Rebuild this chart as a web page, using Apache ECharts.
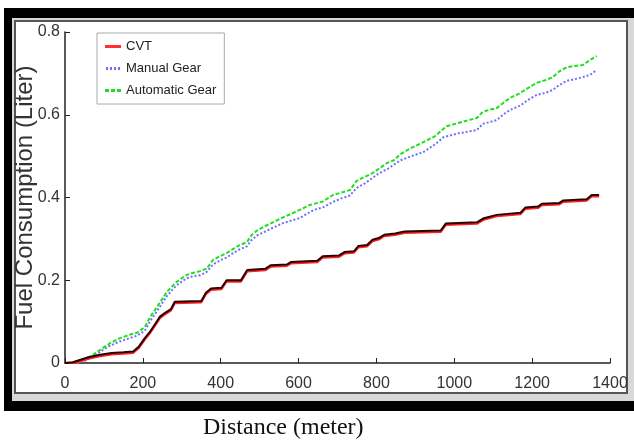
<!DOCTYPE html>
<html>
<head>
<meta charset="utf-8">
<script src="https://cdn.jsdelivr.net/npm/echarts@6/dist/echarts.min.js"></script>
<style>
  html, body { margin: 0; padding: 0; background: #fff; }
  #chart { width: 634px; height: 442px; }
</style>
</head>
<body>
<div id="chart"></div>
<script>
// distance (meter) -> fuel (liter)
const cvtData = [
  [0, 0], [20, 0.002], [40, 0.008], [60, 0.014], [90, 0.02], [120, 0.024], [150, 0.026], [175, 0.028],
  [190, 0.04], [205, 0.06], [218, 0.075], [232, 0.095], [244, 0.112], [258, 0.122], [272, 0.13],
  [282, 0.148], [350, 0.15], [362, 0.17], [375, 0.18], [402, 0.182], [415, 0.2], [452, 0.2],
  [468, 0.225], [515, 0.228], [528, 0.236], [570, 0.238], [580, 0.244], [648, 0.247], [662, 0.258],
  [704, 0.26], [718, 0.268], [742, 0.27], [754, 0.283], [776, 0.285], [790, 0.298], [806, 0.302],
  [820, 0.31], [848, 0.313], [872, 0.318], [965, 0.32], [978, 0.337], [1058, 0.34], [1076, 0.35],
  [1109, 0.358], [1170, 0.363], [1183, 0.376], [1215, 0.378], [1225, 0.385], [1270, 0.387],
  [1280, 0.393], [1340, 0.396], [1353, 0.406], [1372, 0.406]
];
const manualData = [
  [30, 0], [50, 0.005], [72, 0.016], [95, 0.03], [116, 0.042], [141, 0.052], [165, 0.06], [185, 0.066],
  [205, 0.078], [218, 0.1], [236, 0.125], [250, 0.145], [262, 0.162], [275, 0.176], [287, 0.188],
  [300, 0.197], [313, 0.205], [330, 0.21], [347, 0.212], [364, 0.22], [380, 0.238], [398, 0.248],
  [416, 0.255], [432, 0.266], [449, 0.275], [467, 0.282], [480, 0.298], [493, 0.308], [508, 0.315],
  [530, 0.325], [560, 0.338], [580, 0.344], [603, 0.35], [620, 0.36], [639, 0.37], [662, 0.376],
  [690, 0.39], [710, 0.398], [732, 0.405], [749, 0.423], [770, 0.434], [801, 0.455], [830, 0.47],
  [862, 0.49], [890, 0.5], [921, 0.51], [950, 0.528], [973, 0.546], [1010, 0.555], [1040, 0.56],
  [1058, 0.563], [1073, 0.578], [1090, 0.582], [1109, 0.587], [1125, 0.6], [1142, 0.611],
  [1171, 0.623], [1190, 0.636], [1212, 0.648], [1235, 0.653], [1253, 0.66], [1270, 0.672],
  [1289, 0.682], [1310, 0.686], [1330, 0.691], [1348, 0.696], [1366, 0.708]
];
const autoData = [
  [30, 0], [50, 0.008], [72, 0.02], [95, 0.035], [116, 0.048], [141, 0.06], [165, 0.068], [185, 0.073],
  [205, 0.087], [218, 0.11], [236, 0.135], [250, 0.155], [262, 0.172], [275, 0.185], [287, 0.196],
  [300, 0.205], [313, 0.213], [330, 0.218], [347, 0.222], [364, 0.228], [380, 0.249], [398, 0.258],
  [416, 0.266], [432, 0.276], [449, 0.285], [467, 0.292], [480, 0.31], [493, 0.32], [508, 0.328],
  [530, 0.338], [560, 0.352], [580, 0.36], [603, 0.37], [629, 0.382], [662, 0.39], [688, 0.406],
  [710, 0.412], [732, 0.418], [749, 0.44], [770, 0.45], [790, 0.459], [810, 0.472], [827, 0.483],
  [845, 0.49], [862, 0.505], [890, 0.52], [921, 0.534], [950, 0.548], [980, 0.572], [1010, 0.58],
  [1040, 0.588], [1058, 0.592], [1073, 0.607], [1090, 0.612], [1109, 0.616], [1125, 0.628],
  [1142, 0.64], [1168, 0.652], [1190, 0.665], [1212, 0.677], [1235, 0.684], [1253, 0.691],
  [1270, 0.705], [1289, 0.715], [1310, 0.718], [1330, 0.72], [1348, 0.732], [1366, 0.742]
];
const seriesNames = ["CVT", "Manual Gear", "Automatic Gear"];
const xTitle = "Distance (meter)";
const yTitle = "Fuel Consumption (Liter)";

const labelFont = "'Liberation Sans', Arial, sans-serif";

// legend line icons
const solidIcon = "path://M0,0h16v3h-16z";
const dotIcon = "path://M0,0h2v3h-2z M4,0h2v3h-2z M8,0h2v3h-2z M12,0h2v3h-2z";
const dashIcon = "path://M0,0h4v3h-4z M6,0h4v3h-4z M12,0h4v3h-4z";

const myChart = echarts.init(document.getElementById("chart"));

const option = {
  animation: false,
  backgroundColor: "#fff",
  // 外框
  graphic: [
    { type: "rect", z: -10, shape: { x: 4, y: 8, width: 640, height: 403 }, style: { fill: "#000" } },
    { type: "rect", z: -9, shape: { x: 12, y: 18, width: 630, height: 383 }, style: { fill: "#d8d8d8" } },
    { type: "rect", z: -8, shape: { x: 15, y: 21, width: 612, height: 372 }, style: { fill: "#fff", stroke: "#555", lineWidth: 2 } },
    {
      type: "text", left: 203, top: 416,
      style: { text: xTitle, fill: "#111", font: "24px 'Liberation Serif', 'Times New Roman', serif" }
    }
  ],
  grid: { left: 65, right: 24, top: 32, bottom: 79, outerBoundsMode: "none", containLabel: false },
  legend: {
    orient: "vertical",
    left: 97,
    top: 33,
    padding: [7, 8, 7, 8],
    itemGap: 9,
    itemWidth: 16,
    itemHeight: 3,
    backgroundColor: "#fff",
    borderColor: "#aaa",
    borderWidth: 1,
    textStyle: { color: "#222", fontSize: 13, fontFamily: labelFont, lineHeight: 13 },
    data: [
      { name: seriesNames[0], icon: solidIcon, itemStyle: { color: "#ff3030" } },
      { name: seriesNames[1], icon: dotIcon, itemStyle: { color: "#6f6fff" } },
      { name: seriesNames[2], icon: dashIcon, itemStyle: { color: "#22dd22" } }
    ]
  },
  xAxis: {
    type: "value",
    min: 0,
    max: 1400,
    interval: 200,
    splitLine: { show: false },
    axisLine: { lineStyle: { color: "#222", width: 1.5 } },
    axisTick: { inside: true, length: 5, lineStyle: { color: "#222" } },
    axisLabel: { color: "#333", fontSize: 16, fontFamily: labelFont, margin: 13, formatter: (v) => String(v) }
  },
  yAxis: {
    type: "value",
    min: 0,
    max: 0.8,
    interval: 0.2,
    name: yTitle,
    nameLocation: "middle",
    nameGap: 28,
    nameMoveOverlap: false,
    nameTextStyle: { color: "#333", fontSize: 24, fontFamily: labelFont },
    splitLine: { show: false },
    axisLine: { show: true, lineStyle: { color: "#222", width: 1.5 } },
    axisTick: { show: true, inside: true, length: 5, lineStyle: { color: "#222" } },
    axisLabel: { color: "#333", fontSize: 16, fontFamily: labelFont, margin: 5 }
  },
  series: [
    {
      name: seriesNames[0],
      type: "line",
      data: cvtData,
      symbol: "none",
      color: "#ff3030",
      lineStyle: { color: "#2a0000", width: 2, shadowColor: "#ff2020", shadowOffsetY: 1.5, shadowBlur: 0 },
      z: 3
    },
    {
      name: seriesNames[1],
      type: "line",
      data: manualData,
      symbol: "none",
      color: "#6f6fff",
      lineStyle: { color: "#6f6fff", width: 2, type: [2, 2] },
      z: 2
    },
    {
      name: seriesNames[2],
      type: "line",
      data: autoData,
      symbol: "none",
      color: "#22dd22",
      lineStyle: { color: "#22dd22", width: 2, type: [4, 2] },
      z: 2
    }
  ]
};

myChart.setOption(option);
</script>
</body>
</html>
